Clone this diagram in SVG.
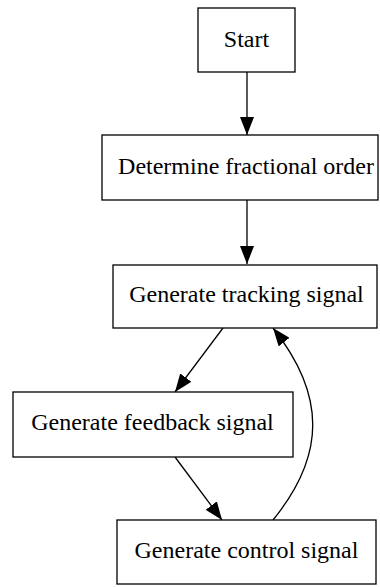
<svg xmlns="http://www.w3.org/2000/svg" width="380" height="587" viewBox="0 0 380 587">
  <style>
    .box { fill: #fff; stroke: #000; stroke-width: 1.3; }
    .lbl { font-family: "Liberation Serif", "Times New Roman", serif; font-size: 24px; fill: #000; text-anchor: middle; }
    .edge { fill: none; stroke: #000; stroke-width: 1.3; marker-end: url(#arrow); }
  </style>
  <defs>
    <marker id="arrow" markerUnits="userSpaceOnUse" markerWidth="18" markerHeight="14" refX="18" refY="7" orient="auto">
      <path d="M0,0 L18,7 L0,14 z" fill="#000"/>
    </marker>
  </defs>
  <rect width="380" height="587" fill="#fff"/>

  <g id="edges">
    <path class="edge" d="M247,72 L247,135"/>
    <path class="edge" d="M247,200 L247,264"/>
    <path class="edge" d="M223,328 L175,392"/>
    <path class="edge" d="M175,457 L222,520"/>
    <path class="edge" d="M273,520 C326,455 326,395 273,328"/>
  </g>

  <g id="start">
    <rect class="box" x="198" y="8" width="97" height="64"/>
    <text class="lbl" x="246.5" y="47">Start</text>
  </g>
  <g id="determine">
    <rect class="box" x="102" y="135" width="276" height="65"/>
    <text class="lbl" x="246" y="173.5">Determine fractional order</text>
  </g>
  <g id="tracking">
    <rect class="box" x="113" y="265" width="264" height="63"/>
    <text class="lbl" x="246.5" y="302">Generate tracking signal</text>
  </g>
  <g id="feedback">
    <rect class="box" x="13" y="392" width="280" height="65"/>
    <text class="lbl" x="152.5" y="430">Generate feedback signal</text>
  </g>
  <g id="control">
    <rect class="box" x="117" y="520" width="259" height="64"/>
    <text class="lbl" x="246.5" y="558">Generate control signal</text>
  </g>
</svg>
